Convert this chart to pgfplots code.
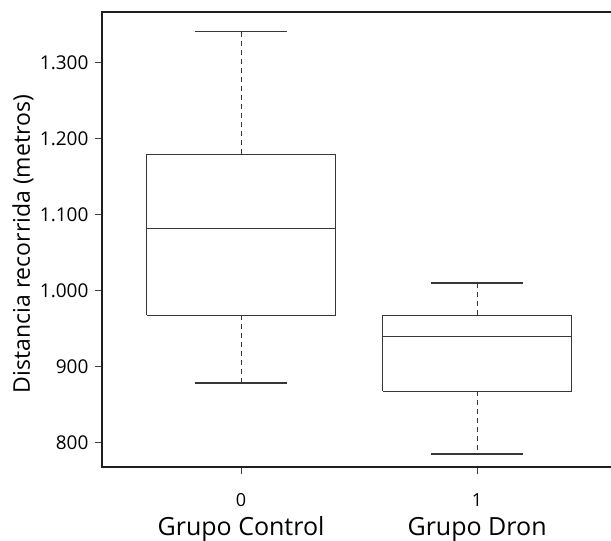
\documentclass[border=0pt]{standalone}
\usepackage{fontspec}
\setmainfont{Open Sans}
\usepackage{pgfplots}
\pgfplotsset{compat=1.18}
\definecolor{boxgray}{RGB}{55,55,55}

\begin{document}
\begin{tikzpicture}
\begin{axis}[
  scale only axis,
  width=520pt, height=455pt,
  xmin=-0.589, xmax=1.614,
  ymin=768.4, ymax=1367,
  axis line style={line width=2pt, black!88},
  xtick={0,1},
  xticklabels={{0\\[9pt]{\fontsize{25}{28}\selectfont Grupo Control}},
               {1\\[9pt]{\fontsize{25}{28}\selectfont Grupo Dron}}},
  x tick label style={align=center, font=\fontsize{18}{20}\selectfont, yshift=-16pt},
  ytick={800,900,1000,1100,1200,1300},
  yticklabels={800,900,1.000,1.100,1.200,1.300},
  y tick label style={font=\fontsize{19}{21}\selectfont, xshift=-3pt},
  tick align=outside,
  tick pos=left,
  major tick length=7pt,
  tick style={line width=1pt, black!75},
  ylabel={Distancia recorrida (metros)},
  ylabel style={font=\fontsize{23}{26}\selectfont,
    at={(axis description cs:-0.152,0.49)}, anchor=center},
  boxline/.style={boxgray, line width=0.8pt, mark=none},
  whisk/.style={boxgray, line width=0.8pt, mark=none, dash pattern=on 5pt off 4pt},
  cap/.style={boxgray, line width=1.4pt, mark=none},
]
% Grupo Control: box, median, whiskers, caps
\addplot[boxline] coordinates {(-0.4,968) (0.4,968) (0.4,1180) (-0.4,1180) (-0.4,968)};
\addplot[boxline] coordinates {(-0.4,1082) (0.4,1082)};
\addplot[whisk] coordinates {(0,1180) (0,1341)};
\addplot[whisk] coordinates {(0,968) (0,879)};
\addplot[cap] coordinates {(-0.195,1341) (0.195,1341)};
\addplot[cap] coordinates {(-0.195,879) (0.195,879)};
% Grupo Dron
\addplot[boxline] coordinates {(0.6,868) (1.4,868) (1.4,968) (0.6,968) (0.6,868)};
\addplot[boxline] coordinates {(0.6,940) (1.4,940)};
\addplot[whisk] coordinates {(1,968) (1,1010.5)};
\addplot[whisk] coordinates {(1,868) (1,785.5)};
\addplot[cap] coordinates {(0.805,1010.5) (1.195,1010.5)};
\addplot[cap] coordinates {(0.805,785.5) (1.195,785.5)};
\end{axis}
\pgfresetboundingbox
\path (current axis.south west) ++(-102pt,-74pt) rectangle
  ([shift={(509pt,12pt)}]current axis.north west);
\end{tikzpicture}
\end{document}
